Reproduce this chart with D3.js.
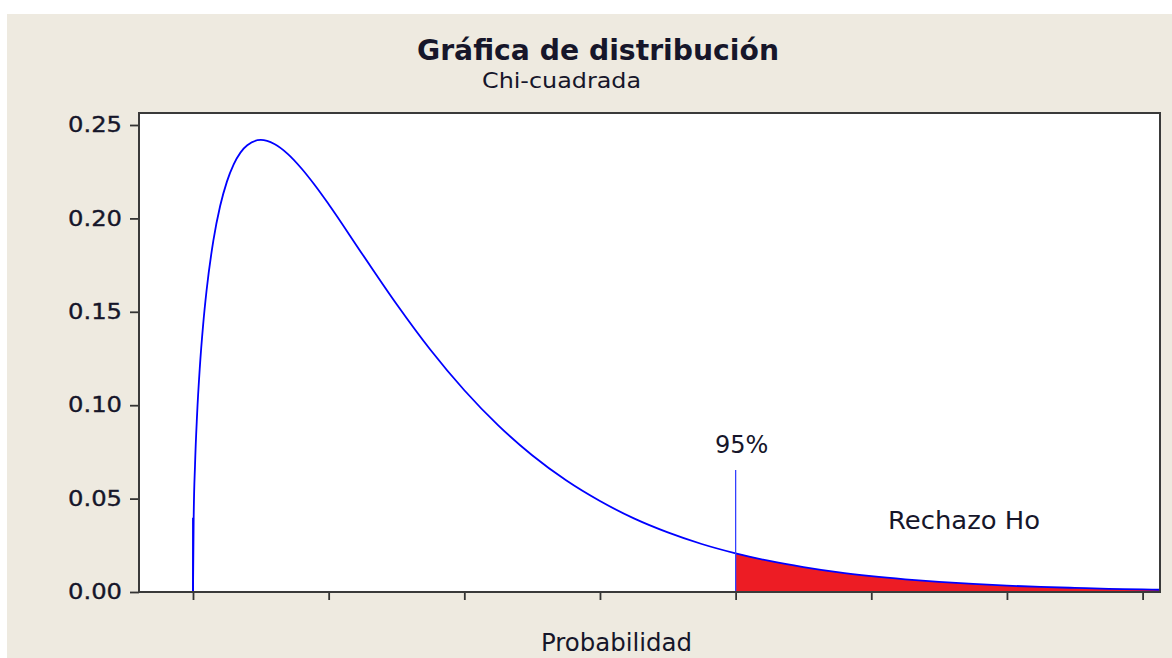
<!DOCTYPE html>
<html>
<head>
<meta charset="utf-8">
<script src="https://cdn.jsdelivr.net/npm/d3@7"></script>
<style>
  html, body { margin: 0; padding: 0; background: #ffffff; }
  svg { display: block; }
  text { font-family: "DejaVu Sans", Verdana, sans-serif; fill: #16162a; }
</style>
</head>
<body>
<svg id="chart" width="1172" height="658"></svg>
<script>
// Chi-square density (3 degrees of freedom): x values and density values
const xValues = [0, 0.01, 0.03, 0.06, 0.1, 0.15, 0.2, 0.3, 0.4, 0.5, 0.6, 0.8, 1.0, 1.2, 1.4, 1.6, 1.8, 2.0,
  2.5, 3, 3.5, 4, 4.5, 5, 5.5, 6, 6.5, 7, 7.5, 8, 8.5, 9, 9.5, 10, 10.5, 11, 11.5, 12, 12.5, 13, 13.5, 14, 14.26];
const densityValues = [0, 0.0397, 0.0681, 0.0948, 0.1200, 0.1433, 0.1614, 0.1881, 0.2066, 0.2197, 0.2289, 0.2392,
  0.2420, 0.2398, 0.2344, 0.2267, 0.2176, 0.2076, 0.1807, 0.1542, 0.1297, 0.1080, 0.0892, 0.0732, 0.0598, 0.0487,
  0.0394, 0.0319, 0.0257, 0.0207, 0.0166, 0.0133, 0.0106, 0.0085, 0.0068, 0.0054, 0.0043, 0.0034, 0.0027, 0.0022,
  0.0017, 0.0014, 0.0012];

// Rejection region starts at the critical value
const criticalValue = 8;
const criticalLineTop = 0.0653;
const criticalLabel = "95%";
const regionLabel = "Rechazo Ho";

const yTicks = [0, 0.05, 0.10, 0.15, 0.20, 0.25];
const xTicks = [0, 2, 4, 6, 8, 10, 12, 14];

const titleText = "Gráfica de distribución";
const subtitleText = "Chi-cuadrada";
const xAxisTitle = "Probabilidad";

const data = xValues.map((x, i) => ({ x, y: densityValues[i] }));

const svg = d3.select("#chart");

// Panel background
svg.append("rect").attr("x", 7).attr("y", 14).attr("width", 1165).attr("height", 644).attr("fill", "#eeeae0");

const plot = { left: 139, right: 1160, top: 113, bottom: 592 };

const x = d3.scaleLinear().domain([0, 14]).range([193, 1142.6]);
const y = d3.scaleLinear().domain([0, 0.25]).range([plot.bottom, 125]);

// Data area
svg.append("rect")
  .attr("x", plot.left).attr("y", plot.top)
  .attr("width", plot.right - plot.left).attr("height", plot.bottom - plot.top)
  .attr("fill", "#ffffff");

svg.append("clipPath").attr("id", "plotClip")
  .append("rect")
  .attr("x", plot.left).attr("y", plot.top)
  .attr("width", plot.right - plot.left).attr("height", plot.bottom - plot.top);

const g = svg.append("g").attr("clip-path", "url(#plotClip)");

// Shaded tail beyond the critical value
const tail = data.filter(d => d.x >= criticalValue);
g.append("path")
  .datum(tail)
  .attr("fill", "#ed1c24")
  .attr("d", d3.area().x(d => x(d.x)).y0(y(0)).y1(d => y(d.y)).curve(d3.curveMonotoneX));

// Density curve
g.append("path")
  .datum(data)
  .attr("fill", "none")
  .attr("stroke", "#0000ff")
  .attr("stroke-width", 1.8)
  .attr("d", d3.line().x(d => x(d.x)).y(d => y(d.y)).curve(d3.curveMonotoneX));

// Vertical line at the left edge of the curve (x = 0)
g.append("line")
  .attr("x1", x(0)).attr("x2", x(0))
  .attr("y1", y(0)).attr("y2", y(densityValues[1]))
  .attr("stroke", "#0000ff").attr("stroke-width", 1.8);

// Critical value marker
g.append("line")
  .attr("x1", x(criticalValue)).attr("x2", x(criticalValue))
  .attr("y1", y(0)).attr("y2", y(criticalLineTop))
  .attr("stroke", "#3340ff").attr("stroke-width", 1.3);

// Axes
const yAxis = d3.axisLeft(y).tickValues(yTicks).tickFormat(d3.format(".2f")).tickSize(9).tickPadding(8);
const yG = svg.append("g").attr("transform", `translate(${plot.left},0)`).call(yAxis);
yG.select(".domain").remove();
yG.selectAll(".tick line").attr("stroke", "#333333").attr("stroke-width", 1.8);
yG.selectAll(".tick text")
  .attr("font-family", "DejaVu Sans, Verdana, sans-serif")
  .attr("font-size", 21)
  .attr("fill", "#16162a")
  .attr("stroke", "#16162a").attr("stroke-width", 0.35)
  .attr("textLength", 54)
  .attr("lengthAdjust", "spacingAndGlyphs");

const xAxis = d3.axisBottom(x).tickValues(xTicks).tickFormat("").tickSize(8);
const xG = svg.append("g").attr("transform", `translate(0,${plot.bottom})`).call(xAxis);
xG.select(".domain").remove();
xG.selectAll(".tick line").attr("stroke", "#333333").attr("stroke-width", 1.8);

// Frame
svg.append("rect")
  .attr("x", plot.left).attr("y", plot.top)
  .attr("width", plot.right - plot.left).attr("height", plot.bottom - plot.top)
  .attr("fill", "none").attr("stroke", "#3a3a3a").attr("stroke-width", 2);

// Labels
svg.append("text")
  .attr("x", x(criticalValue) + 6).attr("y", 453)
  .attr("text-anchor", "middle").attr("font-size", 24)
  .text(criticalLabel);

svg.append("text")
  .attr("x", 888).attr("y", 529)
  .attr("font-size", 25)
  .attr("textLength", 152).attr("lengthAdjust", "spacingAndGlyphs")
  .text(regionLabel);

svg.append("text")
  .attr("x", 417).attr("y", 60)
  .attr("font-size", 29).attr("font-weight", "bold")
  .attr("textLength", 362).attr("lengthAdjust", "spacingAndGlyphs")
  .attr("fill", "#111111")
  .text(titleText);

svg.append("text")
  .attr("x", 482).attr("y", 88)
  .attr("font-size", 21)
  .attr("textLength", 159).attr("lengthAdjust", "spacingAndGlyphs")
  .text(subtitleText);

svg.append("text")
  .attr("x", 541).attr("y", 651)
  .attr("font-size", 24)
  .attr("textLength", 151).attr("lengthAdjust", "spacingAndGlyphs")
  .text(xAxisTitle);
</script>
</body>
</html>
